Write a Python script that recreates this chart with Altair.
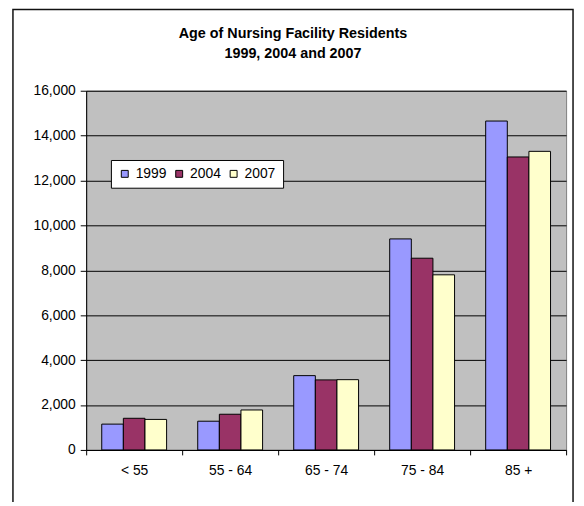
import altair as alt
import pandas as pd

ages = ["< 55", "55 - 64", "65 - 74", "75 - 84", "85 +"]
years = ["1999", "2004", "2007"]
v1999 = [1150, 1280, 3310, 9400, 14650]
v2004 = [1410, 1590, 3120, 8540, 13050]
v2007 = [1360, 1780, 3130, 7800, 13300]
colors = ["#9999FF", "#993366", "#FFFFCC"]
title_lines = ["Age of Nursing Facility Residents", "1999, 2004 and 2007"]
y_ticks = [0, 2000, 4000, 6000, 8000, 10000, 12000, 14000, 16000]

rows = []
for yr, vals in zip(years, [v1999, v2004, v2007]):
    for a, v in zip(ages, vals):
        rows.append({"age": a, "year": yr, "count": v})
df = pd.DataFrame(rows)

FONT = "Liberation Sans"

bars = alt.Chart(df).mark_bar(stroke="black", strokeWidth=1).encode(
    x=alt.X("age:N", sort=ages, title=None,
            scale=alt.Scale(paddingInner=0, paddingOuter=0),
            axis=alt.Axis(labelAngle=0, tickBand="extent", tickSize=5, labelPadding=9,
                          domainColor="black", tickColor="black", labelColor="black",
                          labelFont=FONT, labelFontSize=14, grid=False)),
    xOffset=alt.XOffset("year:N", sort=years,
                        scale=alt.Scale(paddingInner=0, paddingOuter=0.72)),
    y=alt.Y("count:Q", title=None,
            scale=alt.Scale(domain=[0, 16000], nice=False),
            axis=alt.Axis(values=y_ticks, format=",d", tickSize=6, labelPadding=5,
                          domainColor="black", tickColor="black", labelColor="black",
                          labelFont=FONT, labelFontSize=14,
                          grid=True, gridColor="black", gridWidth=1)),
    color=alt.Color("year:N", sort=years,
                    scale=alt.Scale(domain=years, range=colors),
                    legend=alt.Legend(title=None, orient="none", legendX=25, legendY=70,
                                      direction="horizontal", fillColor="white",
                                      strokeColor="black", padding=7,
                                      symbolType="square", symbolSize=49,
                                      symbolStrokeColor="black", symbolStrokeWidth=1,
                                      labelFont=FONT, labelFontSize=14, labelColor="black",
                                      labelOffset=4, columnPadding=5)),
)

frame = alt.Chart(pd.DataFrame({"k": [0]})).mark_rect(
    filled=False, stroke="#111111", strokeWidth=1.5
).encode(x=alt.value(-74), x2=alt.value(492), y=alt.value(-82), y2=alt.value(520))

t1 = alt.Chart(pd.DataFrame({"k": [0]})).mark_text(
    text=title_lines[0], font=FONT, fontSize=14.5, fontWeight="bold",
    align="center", baseline="alphabetic", color="black"
).encode(x=alt.value(209), y=alt.value(-53))

t2 = alt.Chart(pd.DataFrame({"k": [0]})).mark_text(
    text=title_lines[1], font=FONT, fontSize=14.5, fontWeight="bold",
    align="center", baseline="alphabetic", color="black"
).encode(x=alt.value(209), y=alt.value(-33))

chart = alt.layer(frame, bars, t1, t2).properties(
    width=485, height=363,
    autosize=alt.AutoSizeParams(type="none"),
    padding={"left": 79, "top": 81, "right": 10, "bottom": 50},
    background="white",
).configure_view(fill="#C0C0C0", stroke="#808080")

chart.save("out.html", embed_options={"renderer": "svg", "actions": False})
